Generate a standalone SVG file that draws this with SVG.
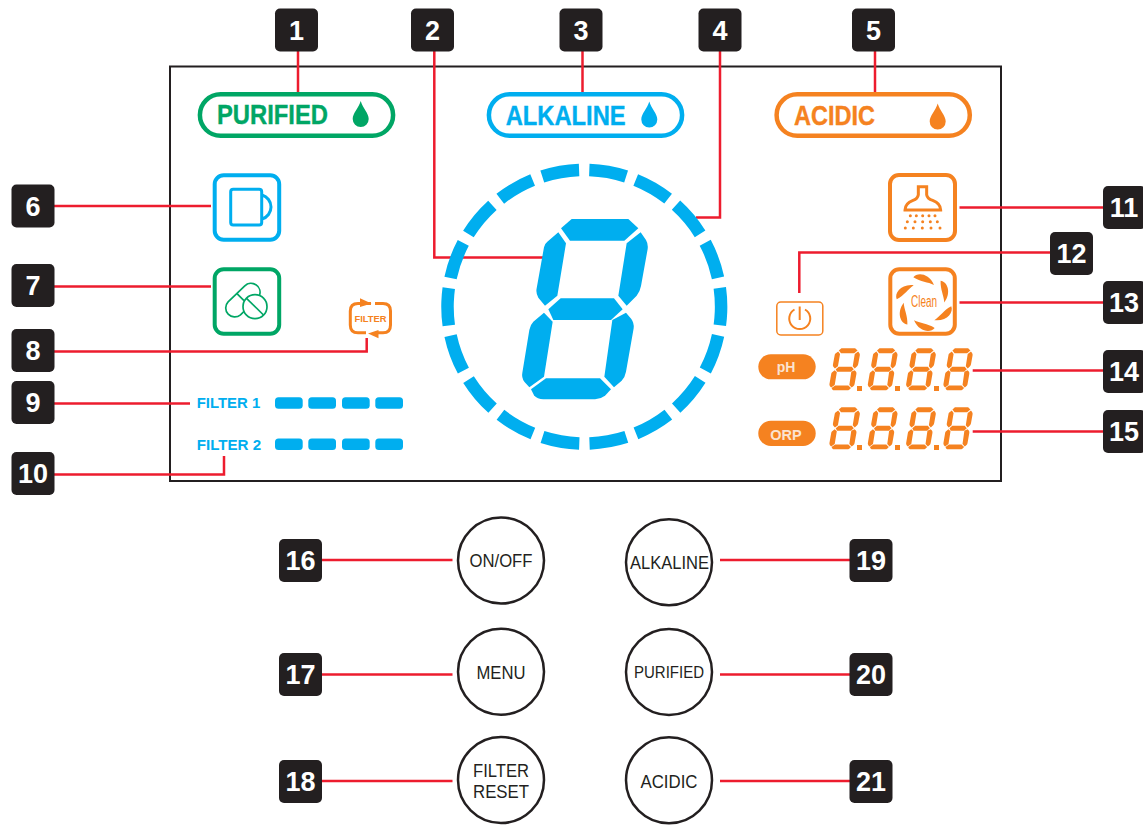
<svg xmlns="http://www.w3.org/2000/svg" width="1143" height="825" viewBox="0 0 1143 825">
<style>
text{font-family:"Liberation Sans",Arial,sans-serif}
.badge rect{fill:#231f20;stroke:none}
.badge text{fill:#fff;font-weight:700;font-size:27px;text-anchor:middle}
.conn{fill:none;stroke:#ed1c2e;stroke-width:2.5}
.btn circle{fill:#fff;stroke:#231f20;stroke-width:2.5}
.btn text{fill:#231f20;font-size:17.5px;text-anchor:middle}
.pill{fill:#fff;stroke-width:4.5}
.pilltxt{font-weight:700;font-size:28px;stroke-width:.4}
.tile{fill:#fff;stroke-width:4}
.b{fill:#00aeef}.g{fill:#00a665}.o{fill:#f58220}
.bs{stroke:#00aeef}.gs{stroke:#00a665}.os{stroke:#f58220}
.bar{fill:#00aeef}
.flt{fill:#00aeef;font-weight:700;font-size:15px}
</style>
<defs>
<g id="digit">
<polygon points="393,235 425,207 595,207 625,235 583,272 420,272"/>
<path d="M385 247L408 280L382 437L345 467L325 443Q317 430 320 415L342 292Q344 281 352 275Z"/>
<path d="M632 247L648 270Q655 282 653 297L633 408Q630 425 620 437L590 467L565 437L590 280Z"/>
<polygon points="355,478 392,445 552,445 578,478 543,510 370,510"/>
<path d="M342 488L368 515L342 680L298 712L283 695Q274 682 277 668L298 540Q300 525 310 515Z"/>
<path d="M588 488L604 507Q613 520 611 535L588 665Q585 682 575 692L552 712L523 680L547 510Z"/>
<path d="M303 718L348 685H510L543 718L525 737Q510 748 495 748H340Q322 748 312 736Z"/>
</g>
<path id="drop" d="M0 -13C2 -6 8 -1 8 5A8 8 0 0 1 -8 5C-8 -1 -2 -6 0 -13Z"/>
<path id="petal" d="M-32 -76C-20 -92 15 -88 30 -53C12 -62 -10 -62 -32 -76Z"/>
<g id="seg4"><rect x="0" y="0" width="27.7" height="11.5" rx="3.5"/><rect x="33.3" y="0" width="27.7" height="11.5" rx="3.5"/><rect x="67" y="0" width="27.7" height="11.5" rx="3.5"/><rect x="100.3" y="0" width="27.7" height="11.5" rx="3.5"/></g>
</defs>
<rect id="frame" x="170" y="66.5" width="831" height="414.5" fill="none" stroke="#231f20" stroke-width="2"/>

<g id="connectors">
<path class="conn" d="M298 51V93"/>
<path class="conn" d="M434.3 51V257.5H543"/>
<path class="conn" d="M582.5 51V93"/>
<path class="conn" d="M720 51V217.5H696"/>
<path class="conn" d="M875 51V93"/>
<path class="conn" d="M54 206H211"/>
<path class="conn" d="M54 286.5H211"/>
<path class="conn" d="M54 351.5H366.7V338"/>
<path class="conn" d="M54 403.5H190"/>
<path class="conn" d="M54 474.5H224V456"/>
<path class="conn" d="M959.500 207.500H1103"/>
<path class="conn" d="M1050 252.500H799.300V293"/>
<path class="conn" d="M959.500 302.500H1103"/>
<path class="conn" d="M972.700 370.500H1103"/>
<path class="conn" d="M972.700 431.500H1103"/>
<path class="conn" d="M322 560H452.500"/>
<path class="conn" d="M322 674.500H452.500"/>
<path class="conn" d="M322 781H452.500"/>
<path class="conn" d="M720 560H850"/>
<path class="conn" d="M720 674.500H850"/>
<path class="conn" d="M720 781H850"/>
</g>

<g id="n1" class="badge"><rect x="275" y="8.500" width="43" height="43" rx="5"/><text x="296.500" y="40">1</text></g>
<g id="n2" class="badge"><rect x="411" y="8.500" width="43" height="43" rx="5"/><text x="432.500" y="40">2</text></g>
<g id="n3" class="badge"><rect x="559.500" y="8.500" width="43" height="43" rx="5"/><text x="581" y="40">3</text></g>
<g id="n4" class="badge"><rect x="698.500" y="8.500" width="43" height="43" rx="5"/><text x="720" y="40">4</text></g>
<g id="n5" class="badge"><rect x="852" y="8.500" width="43" height="43" rx="5"/><text x="873.500" y="40">5</text></g>
<g id="n6" class="badge"><rect x="11.500" y="184.500" width="43" height="43" rx="5"/><text x="33" y="215.500">6</text></g>
<g id="n7" class="badge"><rect x="11.500" y="264" width="43" height="43" rx="5"/><text x="33" y="295">7</text></g>
<g id="n8" class="badge"><rect x="11.500" y="329" width="43" height="43" rx="5"/><text x="33" y="360">8</text></g>
<g id="n9" class="badge"><rect x="11.500" y="381" width="43" height="43" rx="5"/><text x="33" y="412">9</text></g>
<g id="n10" class="badge"><rect x="11.500" y="452" width="43" height="43" rx="5"/><text x="33" y="483">10</text></g>
<g id="n11" class="badge"><rect x="1103" y="186" width="43" height="43" rx="5"/><text x="1124" y="217">11</text></g>
<g id="n12" class="badge"><rect x="1050" y="232" width="43" height="43" rx="5"/><text x="1071.500" y="263">12</text></g>
<g id="n13" class="badge"><rect x="1103" y="281" width="43" height="43" rx="5"/><text x="1124" y="312">13</text></g>
<g id="n14" class="badge"><rect x="1103" y="350" width="43" height="43" rx="5"/><text x="1124" y="381">14</text></g>
<g id="n15" class="badge"><rect x="1103" y="410" width="43" height="43" rx="5"/><text x="1124" y="441">15</text></g>
<g id="n16" class="badge"><rect x="279" y="539" width="43" height="43" rx="5"/><text x="300.500" y="570">16</text></g>
<g id="n17" class="badge"><rect x="279" y="653" width="43" height="43" rx="5"/><text x="300.500" y="684">17</text></g>
<g id="n18" class="badge"><rect x="279" y="760" width="43" height="43" rx="5"/><text x="300.500" y="791">18</text></g>
<g id="n19" class="badge"><rect x="849.500" y="539" width="43" height="43" rx="5"/><text x="871" y="570">19</text></g>
<g id="n20" class="badge"><rect x="849.500" y="653" width="43" height="43" rx="5"/><text x="871" y="684">20</text></g>
<g id="n21" class="badge"><rect x="849.500" y="760" width="43" height="43" rx="5"/><text x="871" y="791">21</text></g>

<g id="purified">
<rect class="pill gs" x="199.900" y="94.300" width="193.200" height="41.500" rx="20.700"/>
<text class="pilltxt g" stroke="#00a665" x="217" y="124" textLength="111" lengthAdjust="spacingAndGlyphs">PURIFIED</text>
<use href="#drop" class="g" x="360.700" y="114"/>
</g>
<g id="alkaline">
<rect class="pill bs" x="488.900" y="94.300" width="193.200" height="41.500" rx="20.700"/>
<text class="pilltxt b" stroke="#00aeef" x="505.700" y="125" textLength="120" lengthAdjust="spacingAndGlyphs">ALKALINE</text>
<use href="#drop" class="b" x="649.300" y="114.500"/>
</g>
<g id="acidic">
<rect class="pill os" x="776.600" y="94.300" width="193.200" height="41.500" rx="20.700"/>
<text class="pilltxt o" stroke="#f58220" x="794" y="125" textLength="81" lengthAdjust="spacingAndGlyphs">ACIDIC</text>
<use href="#drop" class="o" x="937.700" y="116.500"/>
</g>

<g id="cup">
<rect class="tile bs" x="214.700" y="175.300" width="64.500" height="64.500" rx="9"/>
<rect x="230.700" y="189.200" width="31" height="35.800" rx="2.500" fill="none" stroke="#00aeef" stroke-width="3"/>
<path d="M262 195A12.500 12.500 0 0 1 262 219" fill="none" stroke="#00aeef" stroke-width="3"/>
</g>
<g id="pills">
<rect class="tile gs" x="214.700" y="269.300" width="64.500" height="64.500" rx="9"/>
<g fill="none" stroke="#00a665" stroke-width="1.700">
<path d="M228.100 301.800L244.800 285.800A9 9 0 0 1 259.500 295.300M244 311.400L240.500 314.800A9 9 0 0 1 228.100 301.800"/>
<path d="M236.700 293.300L244 300.700"/>
<circle cx="255" cy="306.700" r="12"/>
<path d="M246.500 298.300L263.500 315"/>
</g>
</g>
<g id="filter-icon">
<path d="M371 303.500H358Q350.300 303.500 350.300 311V325Q350.300 332.800 358 332.800H366" fill="none" stroke="#f58220" stroke-width="3"/>
<path d="M375 303.500H383Q390.500 303.500 390.500 311V325Q390.500 332.800 383 332.800H378" fill="none" stroke="#f58220" stroke-width="3"/>
<polygon class="o" points="360,298.300 371.500,303.500 360,307"/>
<polygon class="o" points="378.500,338.300 368,333.500 378.500,330"/>
<text class="o" x="370.500" y="321.500" font-size="9" font-weight="700" text-anchor="middle" textLength="32" lengthAdjust="spacingAndGlyphs">FILTER</text>
</g>
<g id="filter1">
<text class="flt" x="196.700" y="407.700" textLength="63.500" lengthAdjust="spacingAndGlyphs">FILTER 1</text>
<use href="#seg4" class="bar" x="275" y="397.300"/>
</g>
<g id="filter2">
<text class="flt" x="196.700" y="449.500" textLength="64.500" lengthAdjust="spacingAndGlyphs">FILTER 2</text>
<use href="#seg4" class="bar" x="275" y="438.500"/>
</g>

<g id="ring">
<circle cx="584.300" cy="306.700" r="136.800" fill="none" stroke="#00aeef" stroke-width="12.500" pathLength="360" stroke-dasharray="15.700 4.300" transform="rotate(-87.900 584.300 306.700)"/>
</g>
<g id="big-digit" class="b" transform="translate(430 150) scale(.33333)"><use href="#digit"/></g>

<g id="shower" transform="translate(750 160) scale(.33333)">
<rect x="420" y="45" width="195" height="195" rx="27" fill="#fff" stroke="#f58220" stroke-width="12"/>
<path d="M505 80H530V104Q532 116 548 121Q572 130 572 150H465Q465 130 489 121Q503 116 505 104Z" fill="none" stroke="#f58220" stroke-width="9"/>
<g class="o">
<circle cx="481" cy="167" r="4.500"/><circle cx="499" cy="167" r="4.500"/><circle cx="518" cy="167" r="4.500"/><circle cx="537" cy="167" r="4.500"/><circle cx="555" cy="167" r="4.500"/>
<circle cx="472" cy="185" r="4.500"/><circle cx="495" cy="185" r="4.500"/><circle cx="518" cy="185" r="4.500"/><circle cx="541" cy="185" r="4.500"/><circle cx="562" cy="185" r="4.500"/>
<circle cx="466" cy="204" r="4.500"/><circle cx="490" cy="204" r="4.500"/><circle cx="517" cy="204" r="4.500"/><circle cx="543" cy="204" r="4.500"/><circle cx="570" cy="204" r="4.500"/>
</g>
</g>
<g id="clean">
<rect class="tile os" x="890.300" y="269.300" width="64.500" height="64.500" rx="9"/>
<g class="o" transform="translate(924 302.700) scale(.33333)">
<use href="#petal"/><use href="#petal" transform="rotate(60)"/><use href="#petal" transform="rotate(120)"/><use href="#petal" transform="rotate(180)"/><use href="#petal" transform="rotate(240)"/><use href="#petal" transform="rotate(300)"/>
</g>
<text class="o" x="911" y="307.300" font-size="16" textLength="26" lengthAdjust="spacingAndGlyphs">Clean</text>
</g>
<g id="power">
<rect x="776.800" y="302" width="46" height="33" rx="4" fill="#fff" stroke="#f58220" stroke-width="1.500"/>
<path d="M794.500 309.500A10.500 10.500 0 1 0 805 309.500M799.700 306.500V320" fill="none" stroke="#f58220" stroke-width="2"/>
</g>
<g id="ph">
<rect class="o" x="758.300" y="354.300" width="57.400" height="25" rx="12.500"/>
<text x="786" y="372" fill="#fbe3d0" font-weight="700" font-size="14" text-anchor="middle">pH</text>
<g class="o">
<use href="#digit" transform="translate(829.300 348.300) scale(.0808 .0777) translate(-275 -207)"/>
<rect x="857" y="386" width="5" height="5"/>
<use href="#digit" transform="translate(867.700 348.300) scale(.0788 .0777) translate(-275 -207)"/>
<rect x="895" y="386" width="5" height="5"/>
<use href="#digit" transform="translate(906 348.300) scale(.0788 .0777) translate(-275 -207)"/>
<rect x="934" y="386" width="5" height="5"/>
<use href="#digit" transform="translate(943.300 348.300) scale(.0775 .0777) translate(-275 -207)"/>
</g>
</g>
<g id="orp">
<rect class="o" x="758.300" y="420.700" width="57.400" height="25.300" rx="12.600"/>
<text x="786" y="440" fill="#fbe3d0" font-weight="700" font-size="14.500" text-anchor="middle">ORP</text>
<g class="o">
<use href="#digit" transform="translate(829.300 407.300) scale(.0808 .0777) translate(-275 -207)"/>
<rect x="857" y="445" width="5" height="5"/>
<use href="#digit" transform="translate(867.700 407.300) scale(.0788 .0777) translate(-275 -207)"/>
<rect x="895" y="445" width="5" height="5"/>
<use href="#digit" transform="translate(906 407.300) scale(.0788 .0777) translate(-275 -207)"/>
<rect x="934" y="445" width="5" height="5"/>
<use href="#digit" transform="translate(943.300 407.300) scale(.0775 .0777) translate(-275 -207)"/>
</g>
</g>

<g id="btn-onoff" class="btn"><circle cx="501" cy="560.500" r="43"/><text x="501" y="567.300" textLength="63" lengthAdjust="spacingAndGlyphs">ON/OFF</text></g>
<g id="btn-menu" class="btn"><circle cx="501" cy="671.700" r="43"/><text x="501" y="679" textLength="49" lengthAdjust="spacingAndGlyphs">MENU</text></g>
<g id="btn-reset" class="btn"><circle cx="501" cy="780" r="43"/><text x="501" y="776.700" textLength="56" lengthAdjust="spacingAndGlyphs">FILTER</text><text x="501" y="798.300" textLength="56" lengthAdjust="spacingAndGlyphs">RESET</text></g>
<g id="btn-alkaline" class="btn"><circle cx="669" cy="562.300" r="43"/><text x="669.500" y="569" textLength="79" lengthAdjust="spacingAndGlyphs">ALKALINE</text></g>
<g id="btn-purified" class="btn"><circle cx="669" cy="672" r="43"/><text x="669" y="677.700" textLength="70" lengthAdjust="spacingAndGlyphs" style="font-size:16px">PURIFIED</text></g>
<g id="btn-acidic" class="btn"><circle cx="669" cy="780.300" r="43"/><text x="669" y="788" textLength="57" lengthAdjust="spacingAndGlyphs">ACIDIC</text></g>
</svg>
